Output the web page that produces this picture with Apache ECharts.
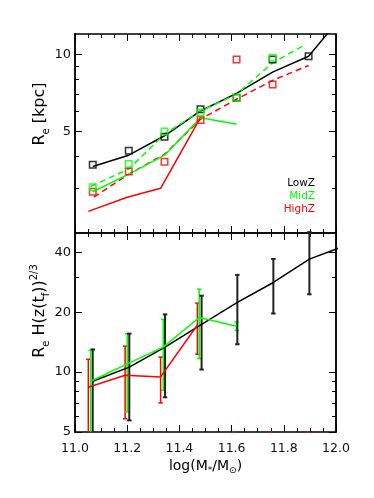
<!DOCTYPE html>
<html><head><meta charset="utf-8">
<script src="https://cdn.jsdelivr.net/npm/echarts@6/dist/echarts.min.js"></script>
<style>html,body{margin:0;padding:0;background:#fff}#c{width:374px;height:498px}</style>
</head><body><div id="c"></div>
<script>
// ---------- data ----------
// top panel: R_e [kpc]
const xTop        = [11.068, 11.206, 11.343, 11.481, 11.619, 11.757, 11.895];
const xTopLineExt = [11.068, 11.206, 11.343, 11.481, 11.619, 11.757, 11.895, 12.033];
const lowZLine    = [3.64, 4.03, 4.80, 6.00, 7.03, 8.51, 9.82, 14.5];
const lowZSquares = [3.70, 4.19, 4.76, 6.10, 6.76, 9.54, 9.82];
const midZSquares = [3.02, 3.72, 4.99, 5.92, 6.76, 9.68];
const midZSolid   = [2.90, 3.40, 4.03, 5.65, 5.32];
const xMidDash    = [11.060, 11.206, 11.343, 11.481, 11.619, 11.757, 11.875];
const midZDashed  = [3.04, 3.56, 4.87, 6.00, 6.97, 9.25, 10.8];
const highZSquares= [2.90, 3.48, 3.80, 5.53, 9.54, 7.62];
const xHighDash   = [11.072, 11.206, 11.343, 11.481, 11.619, 11.757, 11.895];
const highZDashed = [2.76, 3.40, 4.06, 5.57, 6.67, 7.90, 9.04];
const xHighSolid  = [11.051, 11.200, 11.328, 11.479];
const highZSolid  = [2.43, 2.76, 2.99, 5.61];

// bottom panel: R_e H(z(t_f))^(2/3)
const xLowB   = [11.068, 11.208, 11.345, 11.485, 11.622, 11.760, 11.898, 12.036];
const lowZB   = [9.0, 10.59, 13.36, 17.38, 22.4, 28.2, 36.95, 43.2];
const lowZHi  = [13.0, 15.6, 19.5, 24.2, 30.8, 37.0, 50.5];
const lowZLo  = [4.5, 5.72, 7.47, 10.3, 13.8, 19.7, 24.6];
const xMidB   = [11.060, 11.200, 11.338, 11.476, 11.619];
const midZB   = [9.0, 11.0, 13.36, 18.8, 17.0];
const midZHi  = [12.85, 15.6, 18.4, 26.1, 17.85];
const midZLo  = [4.5, 6.3, 8.1, 11.7, 16.2];
const xHighB  = [11.051, 11.192, 11.328, 11.469];
const highZB  = [8.4, 9.65, 9.46, 17.25];
const highZHi = [11.6, 13.5, 11.9, 22.2];
const highZLo = [4.5, 5.83, 7.0, 12.3];
const xHighFloor = [11.607, 11.750, 11.890];
const highZFloor = [5, 5, 5];

// axes
const topRange = [2, 12];
const botRange = [5, 50];
const topMajor = [5, 10];
const topMinor = [3, 4, 6, 7, 8, 9];
const botMajor = [5, 10, 20, 40];
const botMinor = [6, 7, 8, 9, 30];
const xRange = [11.0, 12.0];
const xStep = 0.2;

// ---------- build ----------
const L = v => Math.log10(v);
const BLACK = '#000000', GREEN = '#00ff00', RED = '#ff0000';
const FONT = 'DejaVu Sans';
const pts = (xs, ys) => ys.map((y, i) => [xs[i], L(y)]);

const chart = echarts.init(document.getElementById('c'), null, {renderer: 'canvas'});

const axLine = {show: true, onZero: false, lineStyle: {color: BLACK, width: 1.5}};

function xAx(grid, pos, labels) {
  return {
    type: 'value', gridIndex: grid, position: pos, min: xRange[0], max: xRange[1], interval: xStep,
    axisLine: axLine, splitLine: {show: false},
    axisTick: {show: true, inside: true, length: 7, lineStyle: {color: BLACK, width: 1}},
    minorTick: {show: true, splitNumber: 4, length: 4, lineStyle: {color: BLACK, width: 1}},
    axisLabel: labels ? {show: true, margin: 10, color: '#111', fontFamily: FONT, fontSize: 12.5,
      formatter: v => v.toFixed(1)} : {show: false}
  };
}
function yAx(grid, pos, range, vals, len, labels) {
  return {
    type: 'value', gridIndex: grid, position: pos, min: L(range[0]), max: L(range[1]),
    axisLine: axLine, splitLine: {show: false},
    axisTick: {show: true, inside: true, length: len, customValues: vals.map(L), lineStyle: {color: BLACK, width: 1}},
    axisLabel: labels ? {show: true, margin: 4, color: '#111', fontFamily: FONT, fontSize: 13,
      customValues: vals.map(L), formatter: v => String(Math.round(Math.pow(10, v)))} : {show: false}
  };
}

function errRender(color, width, axisMin) {
  return function (params, api) {
    const x = api.value(0), lo = api.value(1), hi = api.value(2);
    const pLo = api.coord([x, Math.max(lo, axisMin)]);
    const pHi = api.coord([x, hi]);
    const cw = 2.2;
    const st = {stroke: color, lineWidth: width};
    const ch = [
      {type: 'line', shape: {x1: pLo[0], y1: pLo[1], x2: pHi[0], y2: pHi[1]}, style: st},
      {type: 'line', shape: {x1: pHi[0] - cw, y1: pHi[1], x2: pHi[0] + cw, y2: pHi[1]}, style: st}
    ];
    if (lo > axisMin) ch.push({type: 'line', shape: {x1: pLo[0] - cw, y1: pLo[1], x2: pLo[0] + cw, y2: pLo[1]}, style: st});
    return {type: 'group', children: ch};
  };
}
const errData = (xs, lo, hi) => hi.map((h, i) => [xs[i], L(lo[i]), L(h)]);

function line(xi, yi, data, color, dashed, z) {
  return {type: 'line', xAxisIndex: xi, yAxisIndex: yi, data: data, symbol: 'none', clip: true, silent: true,
    lineStyle: {color: color, width: 1.5, type: dashed ? [6, 4] : 'solid'}, z: z || 2, animation: false};
}
function squares(data, color) {
  return {type: 'scatter', xAxisIndex: 0, yAxisIndex: 0, data: data, symbol: 'rect', symbolSize: 6.5, silent: true,
    itemStyle: {color: 'rgba(0,0,0,0)', borderColor: color, borderWidth: 1.5}, z: 4, animation: false};
}

const series = [
  // top
  line(0, 0, pts(xTopLineExt, lowZLine), BLACK, false),
  line(0, 0, pts(xMidDash, midZDashed), GREEN, true),
  line(0, 0, pts(xHighDash, highZDashed), RED, true),
  line(0, 0, pts(xTop, midZSolid), GREEN, false),
  line(0, 0, pts(xHighSolid, highZSolid), RED, false),
  squares(pts(xTop, lowZSquares), BLACK),
  squares(pts(xTop, highZSquares), RED),
  squares(pts(xTop, midZSquares), GREEN),
  // bottom
  {type: 'custom', xAxisIndex: 2, yAxisIndex: 4, renderItem: errRender(RED, 1.5, L(botRange[0])),
    data: errData(xHighB, highZLo, highZHi), z: 3, animation: false, silent: true},
  {type: 'custom', xAxisIndex: 2, yAxisIndex: 4, renderItem: errRender(GREEN, 1.5, L(botRange[0])),
    data: errData(xMidB, midZLo, midZHi), z: 3, animation: false, silent: true},
  {type: 'custom', xAxisIndex: 2, yAxisIndex: 4, renderItem: errRender('#222222', 2, L(botRange[0])),
    data: errData(xLowB, lowZLo, lowZHi), z: 3, animation: false, silent: true},
  line(2, 4, pts(xLowB, lowZB), BLACK, false, 4),
  line(2, 4, pts(xHighB, highZB), RED, false, 4),
  line(2, 4, pts(xMidB, midZB), GREEN, false, 4),
  {type: 'scatter', xAxisIndex: 2, yAxisIndex: 4, data: pts(xHighFloor, highZFloor), symbol: 'rect',
    symbolSize: [3, 2], itemStyle: {color: RED}, z: 5, silent: true, animation: false}
];

const richY = {
  b: {fontFamily: FONT, fontSize: 16, lineHeight: 22, color: '#111'},
  sub: {fontFamily: FONT, fontSize: 10, lineHeight: 10, verticalAlign: 'bottom', color: '#111'},
  sup: {fontFamily: FONT, fontSize: 10, lineHeight: 10, verticalAlign: 'top', color: '#111'}
};
const richX = {
  b: {fontFamily: FONT, fontSize: 14, lineHeight: 19, color: '#111'},
  sub: {fontFamily: FONT, fontSize: 9, lineHeight: 9, verticalAlign: 'bottom', color: '#111'}
};
const legendFont = {fontFamily: FONT, fontSize: 10.5};

chart.setOption({
  animation: false,
  backgroundColor: '#ffffff',
  grid: [
    {left: 75, top: 34, width: 261, height: 199, outerBoundsMode: 'none'},
    {left: 75, top: 233, width: 261, height: 199, outerBoundsMode: 'none'}
  ],
  xAxis: [xAx(0, 'bottom', false), xAx(0, 'top', false), xAx(1, 'bottom', true), xAx(1, 'top', false)],
  yAxis: [
    yAx(0, 'left', topRange, topMajor, 7, true),
    yAx(0, 'left', topRange, topMinor, 4, false),
    yAx(0, 'right', topRange, topMajor, 7, false),
    yAx(0, 'right', topRange, topMinor, 4, false),
    yAx(1, 'left', botRange, botMajor, 7, true),
    yAx(1, 'left', botRange, botMinor, 4, false),
    yAx(1, 'right', botRange, botMajor, 7, false),
    yAx(1, 'right', botRange, botMinor, 4, false)
  ],
  series: series,
  graphic: [
    {type: 'text', right: 59, top: 178, style: Object.assign({text: 'LowZ', fill: BLACK}, legendFont)},
    {type: 'text', right: 59, top: 191, style: Object.assign({text: 'MidZ', fill: GREEN}, legendFont)},
    {type: 'text', right: 59, top: 204, style: Object.assign({text: 'HighZ', fill: RED}, legendFont)},
    {type: 'text', x: 40, y: 114, rotation: Math.PI / 2,
      style: {text: '{b|R}{sub|e}{b| [kpc]}', rich: richY, align: 'center', verticalAlign: 'middle'}},
    {type: 'text', x: 40, y: 311, rotation: Math.PI / 2,
      style: {text: '{b|R}{sub|e}{b| H(z(t}{sub|f}{b|))}{sup|2/3}', rich: richY, align: 'center', verticalAlign: 'middle'}},
    {type: 'text', x: 205.5, y: 466,
      style: {text: '{b|log(M}{sub|*}{b|/M}{sub|⊙}{b|)}', rich: richX, align: 'center', verticalAlign: 'middle'}}
  ]
});
</script>
</body></html>
